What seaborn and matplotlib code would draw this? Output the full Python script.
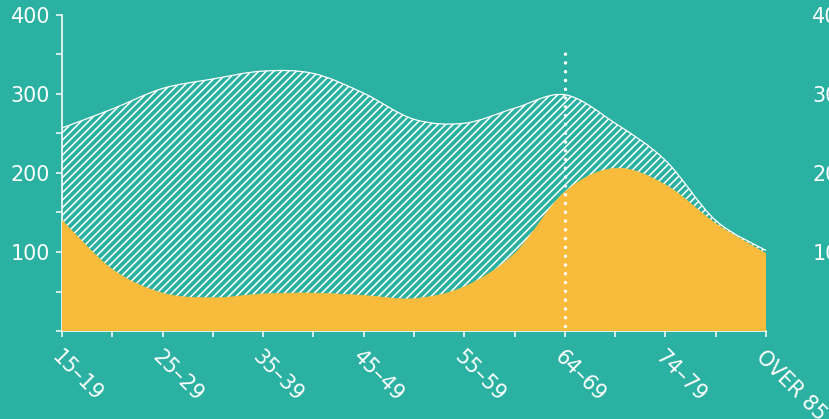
import numpy as np
import matplotlib
matplotlib.use("Agg")
import matplotlib.pyplot as plt
import seaborn as sns
from matplotlib.path import Path
from matplotlib.patches import PathPatch

# ---- data ----
age_groups = ["15–19", "20–24", "25–29", "30–34", "35–39", "40–44", "45–49",
              "50–54", "55–59", "60–64", "64–69", "70–74", "74–79", "80–84", "OVER 85"]
total_values = [257, 281, 307, 319, 329, 326, 301, 268, 263, 282, 299, 263, 216, 140, 102]
yellow_values = [140, 78, 48, 42, 47, 48, 45, 41, 56, 98, 176, 206, 185, 136, 98]
marker_group = "64–69"
marker_top = 352
y_major = [100, 200, 300, 400]
y_minor = [0, 50, 150, 250, 350]

TEAL = "#2BB1A1"
YELLOW = "#F9BB3C"
WHITE = "#FFFFFF"

DPI = 90
sns.set_theme(style="ticks")
plt.rcParams["font.family"] = ["DejaVu Sans"]
plt.rcParams["hatch.color"] = WHITE
plt.rcParams["hatch.linewidth"] = 1.25

fig = plt.figure(figsize=(830 / DPI, 419 / DPI), dpi=DPI, facecolor=TEAL)
ax = fig.add_axes([62 / 830, 88 / 419, (766 - 62) / 830, (331 - 15) / 419])
ax.set_facecolor(TEAL)

x = np.arange(len(age_groups), dtype=float)


def smooth_path(xs, ys):
    xs = np.asarray(xs, float)
    ys = np.asarray(ys, float)
    n = len(xs)
    verts = [(xs[0], ys[0])]
    codes = [Path.MOVETO]
    for i in range(n - 1):
        xa, ya = (xs[i - 1], ys[i - 1]) if i > 0 else (xs[i], ys[i])
        xb, yb = (xs[i + 2], ys[i + 2]) if i + 2 < n else (xs[i + 1], ys[i + 1])
        c1 = (xs[i] + (xs[i + 1] - xa) / 6, ys[i] + (ys[i + 1] - ya) / 6)
        c2 = (xs[i + 1] - (xb - xs[i]) / 6, ys[i + 1] - (yb - ys[i]) / 6)
        verts += [c1, c2, (xs[i + 1], ys[i + 1])]
        codes += [Path.CURVE4] * 3
    return verts, codes


def area_path(xs, ys):
    v, c = smooth_path(xs, ys)
    v = v + [(xs[-1], 0), (xs[0], 0), (xs[0], 0)]
    c = c + [Path.LINETO, Path.LINETO, Path.CLOSEPOLY]
    return Path(v, c)


# hatched total area
ax.add_patch(PathPatch(area_path(x, total_values), facecolor=TEAL, edgecolor=WHITE,
                       hatch="////", linewidth=0, zorder=2))
# outline of the total
tv, tc = smooth_path(x, total_values)
ax.add_patch(PathPatch(Path(tv, tc), facecolor="none", edgecolor=WHITE,
                       linewidth=1.0, zorder=4))
# yellow area
ax.add_patch(PathPatch(area_path(x, yellow_values), facecolor=YELLOW, edgecolor=YELLOW,
                       linewidth=0.5, zorder=3))

# dotted marker line
mi = age_groups.index(marker_group)
ax.plot([x[mi], x[mi]], [6, marker_top], color=WHITE, linewidth=2.8,
        linestyle=(0, (0.01, 2.5)), dash_capstyle="round", zorder=5)

ax.set_xlim(0, len(age_groups) - 1)
ax.set_ylim(0, 400)
ax.set_xticks(x)
ax.set_xticklabels([g if i % 2 == 0 else "" for i, g in enumerate(age_groups)],
                   rotation=-45, ha="left", va="top", rotation_mode="anchor")
ax.set_yticks(y_major)
ax.set_yticks(y_minor, minor=True)
ax.set_yticklabels([str(v) for v in y_major])

sns.despine(ax=ax)
for s in ["left", "bottom"]:
    ax.spines[s].set_color(WHITE)
    ax.spines[s].set_linewidth(1.3)
ax.tick_params(axis="both", which="both", colors=WHITE, length=4.5, width=1.2,
               labelsize=16.5, direction="out")
ax.tick_params(axis="y", which="both", pad=5)
ax.tick_params(axis="x", pad=8)
ax.grid(False)

# right-hand duplicated labels (cut by figure edge, as in the reference)
ax2 = ax.twinx()
ax2.set_ylim(0, 400)
ax2.set_yticks(y_major)
ax2.set_yticklabels([str(v) for v in y_major])
ax2.tick_params(axis="y", length=0, pad=37, colors=WHITE, labelsize=16.5)
for s in ax2.spines.values():
    s.set_visible(False)
ax2.grid(False)

fig.savefig("out.png", dpi=DPI, facecolor=TEAL)
